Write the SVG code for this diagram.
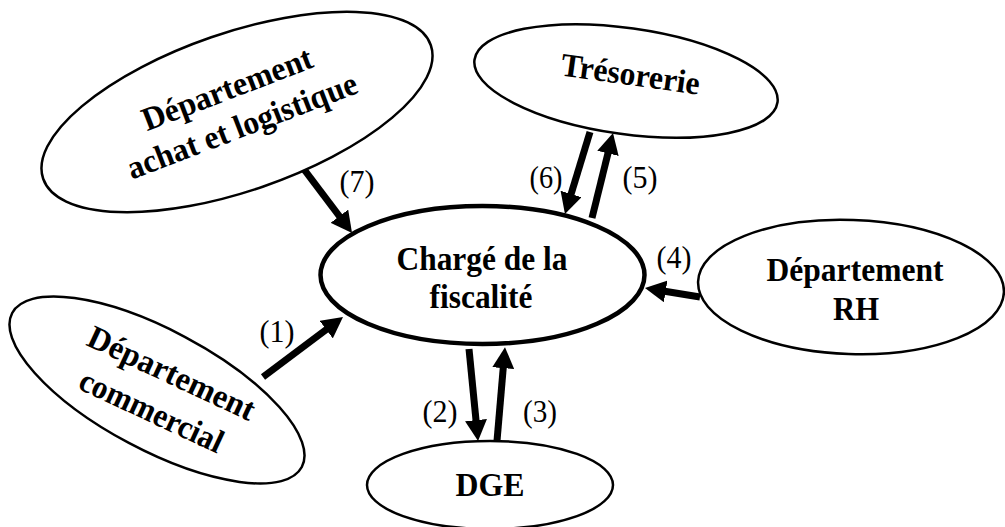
<svg xmlns="http://www.w3.org/2000/svg" width="1005" height="527" viewBox="0 0 1005 527">
<style>
.node{fill:#fff;stroke:#000;stroke-width:2.5}
.main{fill:#fff;stroke:#000;stroke-width:4.5}
.lbl{font-family:"Liberation Serif","Times New Roman",serif;font-weight:bold;font-size:33px;text-anchor:middle;fill:#000}
.num{font-family:"Liberation Serif","Times New Roman",serif;font-size:31px;text-anchor:middle;fill:#000}
.arr{stroke:#000;stroke-width:7;fill:none;marker-end:url(#ah)}
</style>
<defs>
<marker id="ah" markerUnits="userSpaceOnUse" viewBox="0 0 21 22" markerWidth="21" markerHeight="22" refX="1" refY="11" orient="auto">
<path d="M0,0 L21,11 L0,22 z" fill="#000"/>
</marker>
</defs>
<rect width="1005" height="527" fill="#fff"/>
<g id="connectors">
<line class="arr" x1="303" y1="168" x2="340" y2="217"/>
<line class="arr" x1="263" y1="377" x2="327" y2="329"/>
<line class="arr" x1="700" y1="297" x2="664.7" y2="291.2"/>
<line class="arr" x1="590" y1="132" x2="570.8" y2="194.9"/>
<line class="arr" x1="592" y1="218" x2="608.2" y2="152.4"/>
<line class="arr" x1="469" y1="349" x2="476.1" y2="421.1"/>
<line class="arr" x1="497" y1="441" x2="503.3" y2="367.1"/>
<text class="num" x="357" y="192" textLength="35" lengthAdjust="spacingAndGlyphs">(7)</text>
<text class="num" x="546" y="188" textLength="33" lengthAdjust="spacingAndGlyphs">(6)</text>
<text class="num" x="640" y="188" textLength="35" lengthAdjust="spacingAndGlyphs">(5)</text>
<text class="num" x="674" y="268" textLength="35" lengthAdjust="spacingAndGlyphs">(4)</text>
<text class="num" x="277" y="342" textLength="35" lengthAdjust="spacingAndGlyphs">(1)</text>
<text class="num" x="440" y="422" textLength="35" lengthAdjust="spacingAndGlyphs">(2)</text>
<text class="num" x="540" y="422" textLength="34" lengthAdjust="spacingAndGlyphs">(3)</text>
</g>
<g id="achat">
<ellipse class="node" cx="0" cy="0" rx="205" ry="79" transform="translate(237,112) rotate(-19)"/>
<text class="lbl" transform="translate(231,99) rotate(-21)" textLength="180" lengthAdjust="spacingAndGlyphs">Département</text>
<text class="lbl" transform="translate(246,136) rotate(-21)" textLength="244" lengthAdjust="spacingAndGlyphs">achat et logistique</text>
</g>
<g id="tresorerie">
<ellipse class="node" cx="0" cy="0" rx="153" ry="53" transform="translate(626,81) rotate(8)"/>
<text class="lbl" transform="translate(629,85) rotate(8)" textLength="140" lengthAdjust="spacingAndGlyphs">Trésorerie</text>
</g>
<g id="charge">
<ellipse class="main" cx="482.5" cy="275" rx="162" ry="69"/>
<text class="lbl" x="482" y="270" textLength="171" lengthAdjust="spacingAndGlyphs">Chargé de la</text>
<text class="lbl" x="481" y="308" textLength="103" lengthAdjust="spacingAndGlyphs">fiscalité</text>
</g>
<g id="rh">
<ellipse class="node" cx="0" cy="0" rx="153" ry="67" transform="translate(851,287) rotate(2)"/>
<text class="lbl" x="855" y="281" textLength="177" lengthAdjust="spacingAndGlyphs">Département</text>
<text class="lbl" x="856" y="320" textLength="46" lengthAdjust="spacingAndGlyphs">RH</text>
</g>
<g id="commercial">
<ellipse class="node" cx="0" cy="0" rx="164" ry="60" transform="translate(157,390) rotate(28)"/>
<text class="lbl" transform="translate(167,383) rotate(25)" textLength="181" lengthAdjust="spacingAndGlyphs">Département</text>
<text class="lbl" transform="translate(147,421) rotate(25)" textLength="155" lengthAdjust="spacingAndGlyphs">commercial</text>
</g>
<g id="dge">
<ellipse class="node" cx="490" cy="485" rx="123" ry="44"/>
<text class="lbl" x="490" y="496" textLength="69" lengthAdjust="spacingAndGlyphs">DGE</text>
</g>
</svg>
